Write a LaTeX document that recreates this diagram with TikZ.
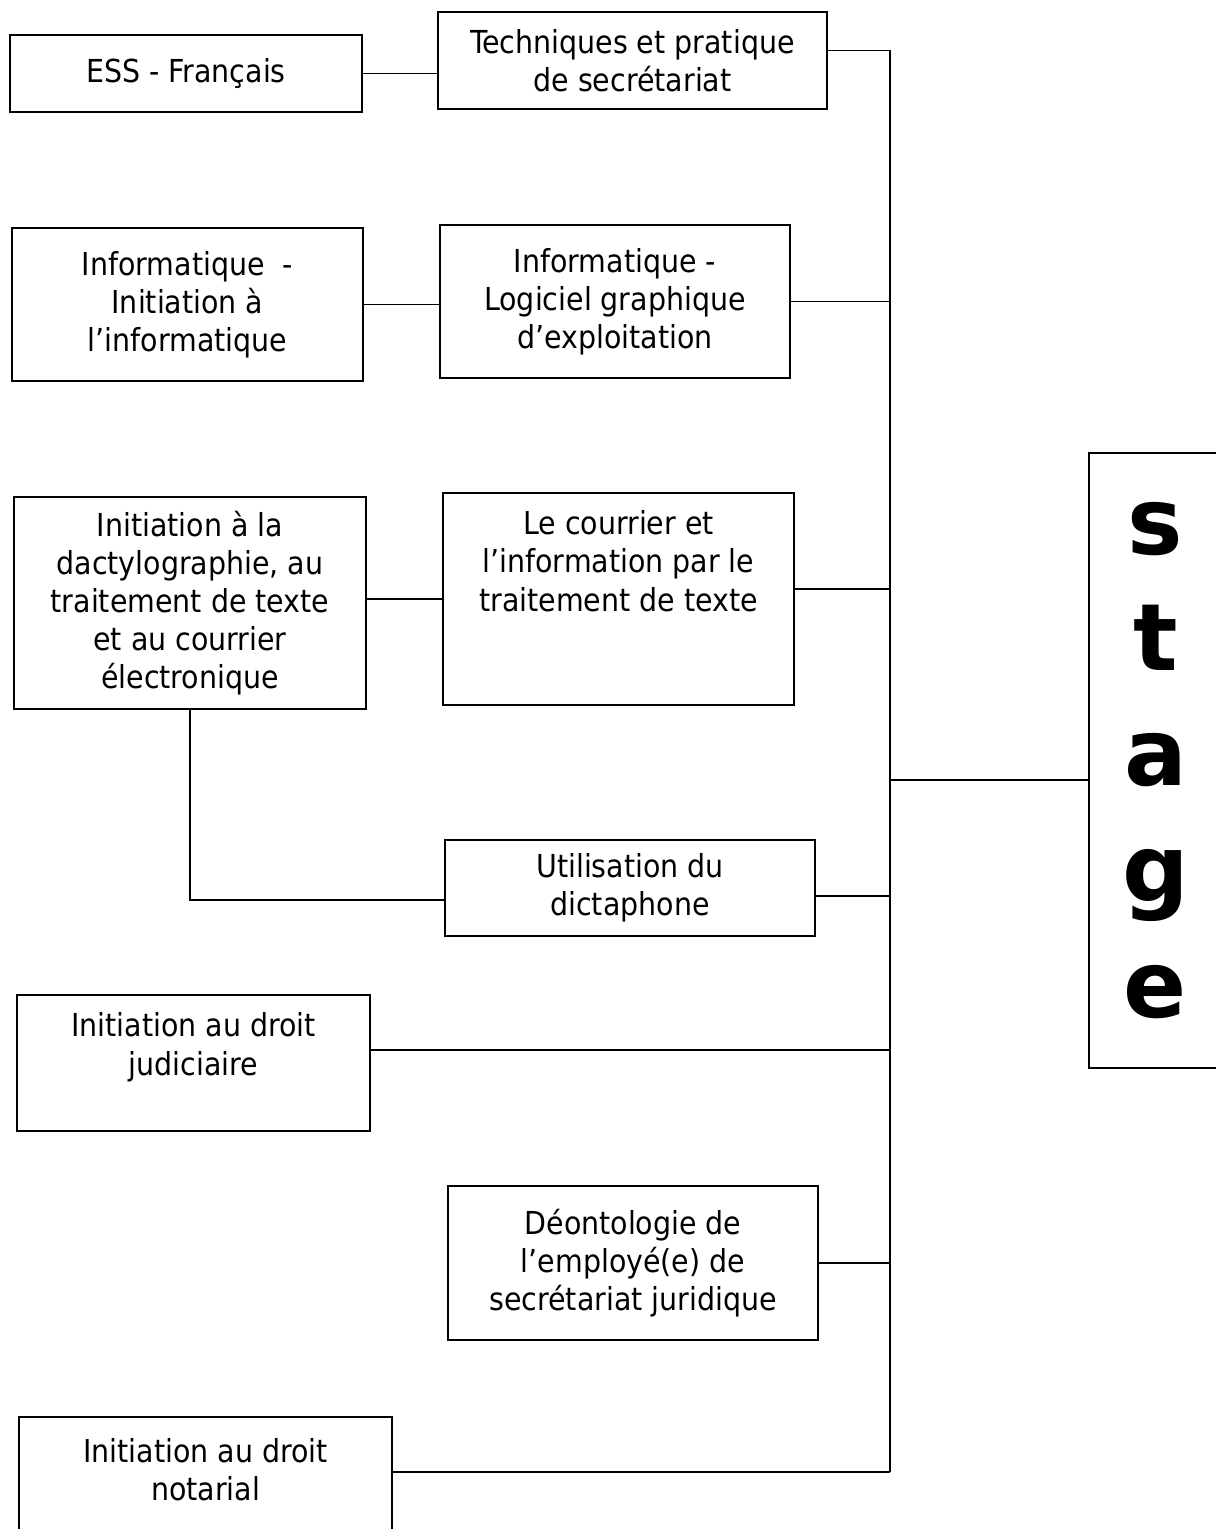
\documentclass[tikz,border=0pt]{standalone}
\usepackage{fontspec}
\setmainfont{DejaVu Sans Condensed}
\newfontfamily\stagefont{DejaVu Sans}
\tikzset{
  box/.style={draw, line width=0.8pt, align=center, inner sep=0pt,
    font=\fontsize{18}{21.7}\selectfont},
}
\begin{document}
\begin{tikzpicture}[x=0.2mm, y=-0.2mm, line width=0.8pt]
        \useasboundingbox (0,0) rectangle (1215,1529);
        % Modules
        \node [box, minimum width=70.4mm, minimum height=15.4mm] (ess) at (186,73.5) {ESS - Français};
        \node [box, minimum width=77.8mm, minimum height=19.4mm] (tech) at (632.5,60.5) {Techniques et pratique\\de secrétariat};
        \node [box, minimum width=70.2mm, minimum height=30.6mm] (info) at (187.5,304.5) {Informatique\ \ -\\Initiation à\\l’informatique};
        \node [box, minimum width=70mm, minimum height=30.6mm] (logi) at (615,301.5) {Informatique -\\Logiciel graphique\\d’exploitation};
        \node [box, minimum width=70.4mm, minimum height=42.4mm] (dact) at (190,603) {Initiation à la\\dactylographie, au\\traitement de texte\\et au courrier\\électronique};
        \node [box, minimum width=70.2mm, minimum height=42.4mm] (cour) at (618.5,599) {Le courrier et\\l’information par le\\traitement de texte\\~\\~};
        \node [box, minimum width=74mm, minimum height=19.2mm] (dict) at (630,888) {Utilisation du\\dictaphone};
        \node [box, minimum width=70.6mm, minimum height=27.2mm] (judi) at (193.5,1063) {Initiation au droit\\judiciaire\\~};
        \node [box, minimum width=74mm, minimum height=30.8mm] (deon) at (633,1263) {Déontologie de\\l’employé(e) de\\secrétariat juridique};
        \node [box, minimum width=74.6mm, minimum height=28.6mm] (nota) at (205.5,1488.5) {Initiation au droit\\notarial\\~};
        % Stage
        \node [box, minimum width=26.6mm, minimum height=123mm,
               font=\stagefont\bfseries\fontsize{53}{65.8}\selectfont] (stage) at (1155.5,760.5) {s\\t\\a\\g\\e};
        % Liaisons
        \coordinate (bustop) at (890,50);
        \coordinate (busmid) at (890,780);
        \coordinate (busbot) at (890,1472);
        \draw (bustop) -- (busbot);
        \draw (ess) -- (ess -| tech.west);
        \draw (info) -- (info -| logi.west);
        \draw (cour.west -| dact.east) -- (cour.west);
        \draw (dact.south) |- ([yshift=-2.4mm]dict.west);
        \draw ([yshift=2mm]tech.east) -- ([yshift=2mm]tech.east -| bustop);
        \draw (logi.east) -- (logi.east -| bustop);
        \draw ([yshift=2mm]cour.east) -- ([yshift=2mm]cour.east -| bustop);
        \draw ([yshift=-1.6mm]dict.east) -- ([yshift=-1.6mm]dict.east -| bustop);
        \draw ([yshift=2.6mm]judi.east) -- ([yshift=2.6mm]judi.east -| bustop);
        \draw (deon.east) -- (deon.east -| bustop);
        \draw (nota.east |- busbot) -- (busbot);
        \draw (busmid) -- (busmid -| stage.west);
    \end{tikzpicture}
\end{document}
